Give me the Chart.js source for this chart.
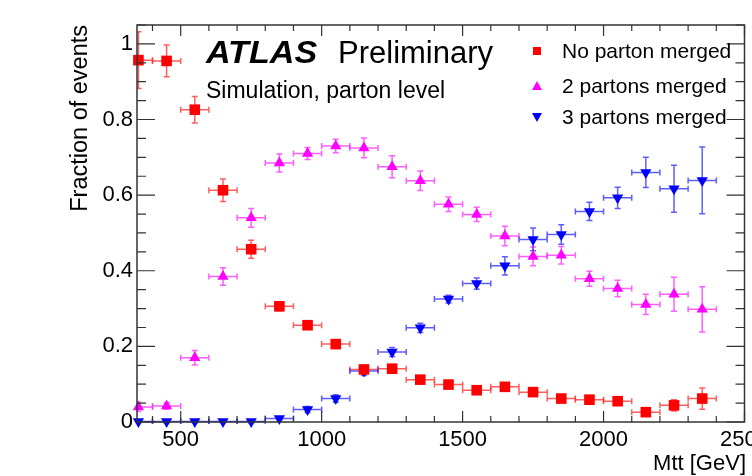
<!DOCTYPE html>
<html>
<head>
<meta charset="utf-8">
<script src="https://cdn.jsdelivr.net/npm/chart.js"></script>
<style>
  body { margin: 0; background: #fff; }
  #wrap { width: 752px; height: 476px; }
</style>
</head>
<body>
<div id="wrap"><canvas id="fracChart"></canvas></div>
<script>
// bin centres (GeV), bins are 100 GeV wide
const binCenters = [350, 450, 550, 650, 750, 850, 950, 1050, 1150, 1250, 1350, 1450, 1550, 1650, 1750, 1850, 1950, 2050, 2150, 2250, 2350];
const binHalfWidth = 50;

const noMerged    = [0.957, 0.955, 0.826, 0.613, 0.457, 0.306, 0.256, 0.206, 0.139, 0.141, 0.112, 0.099, 0.084, 0.093, 0.079, 0.062, 0.059, 0.055, 0.026, 0.044, 0.062];
const noMergedErr = [0.075, 0.042, 0.035, 0.030, 0.024, 0.012, 0.010, 0.010, 0.008, 0.008, 0.008, 0.008, 0.008, 0.008, 0.008, 0.008, 0.008, 0.010, 0.010, 0.015, 0.028];

const twoMerged    = [0.040, 0.042, 0.170, 0.385, 0.540, 0.685, 0.710, 0.730, 0.725, 0.675, 0.638, 0.576, 0.549, 0.492, 0.438, 0.441, 0.379, 0.353, 0.311, 0.338, 0.298];
const twoMergedErr = [0.012, 0.008, 0.019, 0.023, 0.025, 0.024, 0.016, 0.018, 0.026, 0.029, 0.026, 0.019, 0.019, 0.026, 0.025, 0.023, 0.020, 0.022, 0.027, 0.045, 0.060];

const threeMerged    = [0.001, 0.001, 0.001, 0.001, 0.001, 0.009, 0.033, 0.062, 0.135, 0.185, 0.249, 0.325, 0.366, 0.413, 0.483, 0.496, 0.557, 0.593, 0.660, 0.617, 0.639];
const threeMergedErr = [0.003, 0.003, 0.003, 0.003, 0.003, 0.005, 0.008, 0.010, 0.012, 0.012, 0.012, 0.010, 0.015, 0.024, 0.030, 0.026, 0.024, 0.028, 0.040, 0.062, 0.088];

const xTicks = [500, 1000, 1500, 2000, 2500];
const yTicks = [0, 0.2, 0.4, 0.6, 0.8, 1];
const xRange = [345, 2500];
const yRange = [0, 1.05];

const FONT = '"Liberation Sans", Arial, Helvetica, sans-serif';

function pts(vals, errs) {
    return binCenters.map((c, i) => ({ x: c, y: vals[i], err: errs[i] }));
}

// error bars: horizontal = bin width, vertical = stat error
const errorBars = {
    id: 'errorBars',
    beforeDatasetsDraw(chart) {
        const ctx = chart.ctx;
        const xs = chart.scales.x, ys = chart.scales.y;
        ctx.save();
        ctx.beginPath();
        ctx.rect(chart.chartArea.left, chart.chartArea.top - 2, chart.chartArea.width, chart.chartArea.height + 4);
        ctx.clip();
        chart.data.datasets.forEach(ds => {
            ctx.strokeStyle = ds.errColor;
            ctx.lineWidth = 1.5;
            ds.data.forEach(p => {
                const x0 = xs.getPixelForValue(p.x - binHalfWidth);
                const x1 = xs.getPixelForValue(p.x + binHalfWidth);
                const xc = xs.getPixelForValue(p.x);
                const yc = ys.getPixelForValue(p.y);
                const y0 = ys.getPixelForValue(p.y - p.err);
                const y1 = ys.getPixelForValue(p.y + p.err);
                ctx.beginPath();
                ctx.moveTo(x0, yc); ctx.lineTo(x1, yc);
                ctx.moveTo(x0, yc - 3); ctx.lineTo(x0, yc + 3);
                ctx.moveTo(x1, yc - 3); ctx.lineTo(x1, yc + 3);
                ctx.moveTo(xc, y0); ctx.lineTo(xc, y1);
                ctx.moveTo(xc - 3, y0); ctx.lineTo(xc + 3, y0);
                ctx.moveTo(xc - 3, y1); ctx.lineTo(xc + 3, y1);
                ctx.stroke();
            });
        });
        ctx.restore();
    }
};

// ROOT-like frame with inward ticks, plus the text labels and legend
const decorations = {
    id: 'decorations',
    afterDraw(chart) {
        const ctx = chart.ctx;
        const a = chart.chartArea;
        const xs = chart.scales.x, ys = chart.scales.y;
        ctx.save();
        ctx.strokeStyle = '#333';
        ctx.lineWidth = 1.5;
        ctx.strokeRect(a.left, a.top, a.right - a.left, a.bottom - a.top);

        ctx.lineWidth = 1.2;
        ctx.beginPath();
        for (let v = 400; v <= xRange[1]; v += 100) {
            const x = xs.getPixelForValue(v);
            const len = (v % 500 === 0) ? 11 : 6;
            ctx.moveTo(x, a.bottom); ctx.lineTo(x, a.bottom - len);
            ctx.moveTo(x, a.top); ctx.lineTo(x, a.top + len);
        }
        for (let k = 0; k <= 21; k++) {
            const v = k * 0.05;
            const y = ys.getPixelForValue(v);
            const len = (k % 4 === 0) ? 18 : 9;
            ctx.moveTo(a.left, y); ctx.lineTo(a.left + len, y);
            ctx.moveTo(a.right, y); ctx.lineTo(a.right - len, y);
        }
        ctx.stroke();

        ctx.fillStyle = '#000';
        ctx.textBaseline = 'alphabetic';
        ctx.textAlign = 'left';
        // ATLAS label is a bit wider than the font gives
        ctx.save();
        ctx.translate(206, 63);
        ctx.scale(1.1, 1);
        ctx.font = 'italic bold 31px ' + FONT;
        ctx.fillText('ATLAS', 0, 0);
        ctx.restore();
        ctx.font = '31px ' + FONT;
        ctx.fillText('Preliminary', 338, 63);
        ctx.font = '23px ' + FONT;
        ctx.fillText('Simulation, parton level', 206, 98);

        // axis titles
        ctx.font = '22px ' + FONT;
        ctx.textAlign = 'right';
        ctx.fillText('Mtt [GeV]', 746, 470);
        ctx.save();
        ctx.translate(87, 25);
        ctx.rotate(-Math.PI / 2);
        ctx.textAlign = 'right';
        ctx.font = '23.5px ' + FONT;
        ctx.fillText('Fraction of events', 0, 0);
        ctx.restore();

        // legend
        const rows = [
            { label: 'No parton merged', y: 51 },
            { label: '2 partons merged', y: 86 },
            { label: '3 partons merged', y: 117 }
        ];
        chart.data.datasets.forEach((ds, i) => {
            const r = rows[i];
            ctx.fillStyle = ds.backgroundColor;
            ctx.beginPath();
            if (ds.pointStyle === 'rect') {
                ctx.rect(533, r.y - 4, 8, 8);
            } else if (ds.pointRotation === 180) {
                ctx.moveTo(532, r.y - 4); ctx.lineTo(542, r.y - 4); ctx.lineTo(537, r.y + 5);
            } else {
                ctx.moveTo(532, r.y + 4); ctx.lineTo(542, r.y + 4); ctx.lineTo(537, r.y - 5);
            }
            ctx.fill();
            ctx.fillStyle = '#000';
            ctx.textAlign = 'left';
            ctx.font = '21px ' + FONT;
            ctx.fillText(r.label, 562, r.y + 7);
        });
        ctx.restore();
    }
};

const ctx = document.getElementById('fracChart').getContext('2d');
const fracChart = new Chart(ctx, {
    type: 'scatter',
    data: {
        datasets: [{
            label: 'No parton merged',
            data: pts(noMerged, noMergedErr),
            pointStyle: 'rect',
            pointRadius: 7.5,
            backgroundColor: '#ff0000',
            borderColor: '#ff0000',
            borderWidth: 0,
            clip: false,
            errColor: 'rgba(255,40,40,0.75)'
        }, {
            label: '2 partons merged',
            data: pts(twoMerged, twoMergedErr),
            pointStyle: 'triangle',
            pointRadius: 6.5,
            backgroundColor: '#ff00ff',
            borderColor: '#ff00ff',
            borderWidth: 0,
            clip: false,
            errColor: 'rgba(255,40,255,0.75)'
        }, {
            label: '3 partons merged',
            data: pts(threeMerged, threeMergedErr),
            pointStyle: 'triangle',
            pointRotation: 180,
            pointRadius: 6.5,
            backgroundColor: '#0000ff',
            borderColor: '#0000ff',
            borderWidth: 0,
            clip: false,
            errColor: 'rgba(40,40,255,0.75)'
        }]
    },
    options: {
        responsive: true,
        maintainAspectRatio: false,
        animation: false,
        devicePixelRatio: 1,
        layout: { padding: { left: 0, top: 25, right: 4, bottom: 0 } },
        plugins: {
            legend: { display: false },
            tooltip: { enabled: false }
        },
        scales: {
            x: {
                type: 'linear',
                min: xRange[0],
                max: xRange[1],
                grid: { display: false, drawTicks: false, tickLength: 0 },
                border: { display: false },
                afterBuildTicks: s => { s.ticks = xTicks.map(v => ({ value: v })); },
                afterFit: s => { s.height = 54; s.paddingLeft = 0; s.paddingRight = 0; },
                ticks: {
                    color: '#000',
                    font: { family: FONT, size: 22 },
                    padding: 5,
                    maxRotation: 0,
                    autoSkip: false,
                    callback: v => String(v)
                }
            },
            y: {
                type: 'linear',
                min: yRange[0],
                max: yRange[1],
                grid: { display: false, drawTicks: false, tickLength: 0 },
                border: { display: false },
                afterBuildTicks: s => { s.ticks = yTicks.map(v => ({ value: v })); },
                afterFit: s => { s.width = 137; s.paddingTop = 0; s.paddingBottom = 0; },
                ticks: {
                    color: '#000',
                    font: { family: FONT, size: 22 },
                    padding: 4,
                    autoSkip: false,
                    callback: v => String(v)
                }
            }
        }
    },
    plugins: [errorBars, decorations]
});
</script>
</body>
</html>
